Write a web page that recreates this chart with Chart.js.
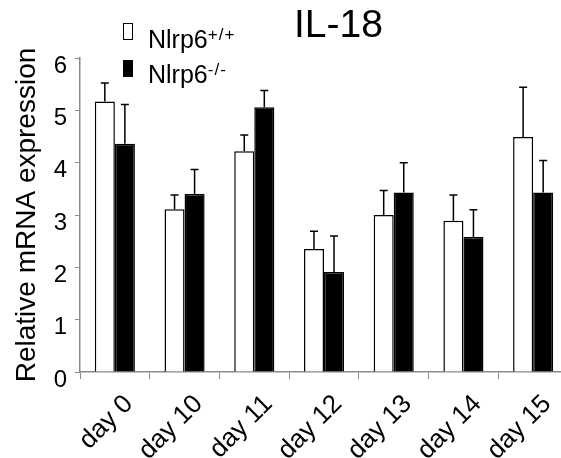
<!DOCTYPE html>
<html>
<head>
<meta charset="utf-8">
<script src="https://cdn.jsdelivr.net/npm/chart.js@4/dist/chart.umd.min.js"></script>
<style>
  html, body { margin: 0; padding: 0; overflow: hidden; background: #fff; }
  #wrap { position: relative; width: 561px; height: 458px; overflow: hidden; }
  canvas { position: absolute; left: 0; top: 0; }
  .title { position: absolute; left: 294px; top: 4px; font: 39px/39px "Liberation Sans", Arial, sans-serif; color: #000; }
  .leg { position: absolute; left: 148px; font: 25px/25px "Liberation Sans", Arial, sans-serif; color: #000; white-space: nowrap; }
  .leg sup { font-size: 17px; letter-spacing: 1px; vertical-align: baseline; position: relative; top: -8px; }
  .box { position: absolute; left: 123px; width: 8px; height: 15px; border: 1.5px solid #000; }
</style>
</head>
<body>
<div id="wrap">
  <canvas id="il18Chart" width="570" height="458"></canvas>
  <div class="title">IL-18</div>
  <div id="legend"></div>
</div>
<script>
// ====== Data ======
const categories = ["day 0", "day 10", "day 11", "day 12", "day 13", "day 14", "day 15"];
const wtMean = [5.17, 3.11, 4.22, 2.35, 3.00, 2.89, 4.49];
const wtErr  = [0.35, 0.27, 0.31, 0.34, 0.47, 0.49, 0.95];
const koMean = [4.36, 3.40, 5.06, 1.91, 3.43, 2.58, 3.43];
const koErr  = [0.75, 0.47, 0.32, 0.69, 0.57, 0.52, 0.61];
const seriesNames = ["Nlrp6", "Nlrp6"];
const seriesSup = ["+/+", "-/-"];
const yTicks = [0, 1, 2, 3, 4, 5, 6];

// ====== Legend (html so the superscripts stay real text) ======
const legendEl = document.getElementById("legend");
const legendFill = ["#fff", "#000"];
const legendBoxTop = [23, 60];
const legendTextTop = [27, 62];
seriesNames.forEach((name, i) => {
  const box = document.createElement("div");
  box.className = "box";
  box.style.top = legendBoxTop[i] + "px";
  box.style.background = legendFill[i];
  legendEl.appendChild(box);
  const txt = document.createElement("div");
  txt.className = "leg";
  txt.style.top = legendTextTop[i] + "px";
  txt.innerHTML = name + "<sup>" + seriesSup[i] + "</sup>";
  legendEl.appendChild(txt);
});

// ====== Error bars (upper only) ======
const errorBars = {
  id: "errorBars",
  afterDatasetsDraw(chart) {
    const c = chart.ctx;
    const y = chart.scales.y;
    c.save();
    c.strokeStyle = "#000";
    c.lineWidth = 1.5;
    chart.data.datasets.forEach((ds, di) => {
      const meta = chart.getDatasetMeta(di);
      meta.data.forEach((bar, i) => {
        const top = y.getPixelForValue(ds.data[i] + ds.errors[i]);
        c.beginPath();
        c.moveTo(bar.x, bar.y);
        c.lineTo(bar.x, top);
        c.moveTo(bar.x - 4, top);
        c.lineTo(bar.x + 4, top);
        c.stroke();
      });
    });
    c.restore();
  }
};

// ====== Chart.js ======
const ctx = document.getElementById("il18Chart").getContext("2d");
const axisGrey = "#8a8a8a";

const il18Chart = new Chart(ctx, {
  type: "bar",
  data: {
    labels: categories,
    datasets: [{
      label: seriesNames[0] + seriesSup[0],
      data: wtMean,
      errors: wtErr,
      backgroundColor: "#fff",
      borderColor: "#000",
      borderWidth: 1.5
    }, {
      label: seriesNames[1] + seriesSup[1],
      data: koMean,
      errors: koErr,
      backgroundColor: "#000",
      borderColor: "#000",
      borderWidth: 1.5
    }]
  },
  options: {
    responsive: false,
    animation: false,
    categoryPercentage: 0.575,
    barPercentage: 1.0,
    layout: { padding: { left: 7, top: 58, right: 2, bottom: 0 } },
    plugins: {
      legend: { display: false },
      title: { display: false },
      tooltip: { enabled: false }
    },
    scales: {
      x: {
        grid: { drawOnChartArea: false, offset: true, color: axisGrey, tickLength: 7 },
        border: { color: axisGrey, width: 1.5 },
        ticks: {
          color: "#000",
          font: { family: "Liberation Sans", size: 26 },
          minRotation: 45,
          maxRotation: 45,
          padding: 10,
          labelOffset: 14
        },
        afterFit(scale) { scale.height = 86; }
      },
      y: {
        min: 0,
        max: 6,
        grid: { drawOnChartArea: false, color: axisGrey, tickLength: 5 },
        border: { color: axisGrey, width: 1.5 },
        afterBuildTicks(scale) { scale.ticks = yTicks.map(v => ({ value: v })); },
        ticks: {
          color: "#000",
          font: { family: "Liberation Sans", size: 24 },
          padding: 8,
          labelOffset: 8
        },
        title: {
          display: true,
          text: "Relative mRNA expression",
          color: "#000",
          font: { family: "Liberation Sans", size: 28 },
          padding: { top: 3, bottom: 4 }
        },
        afterFit(scale) { scale.width = 73; }
      }
    }
  },
  plugins: [errorBars]
});
</script>
</body>
</html>
